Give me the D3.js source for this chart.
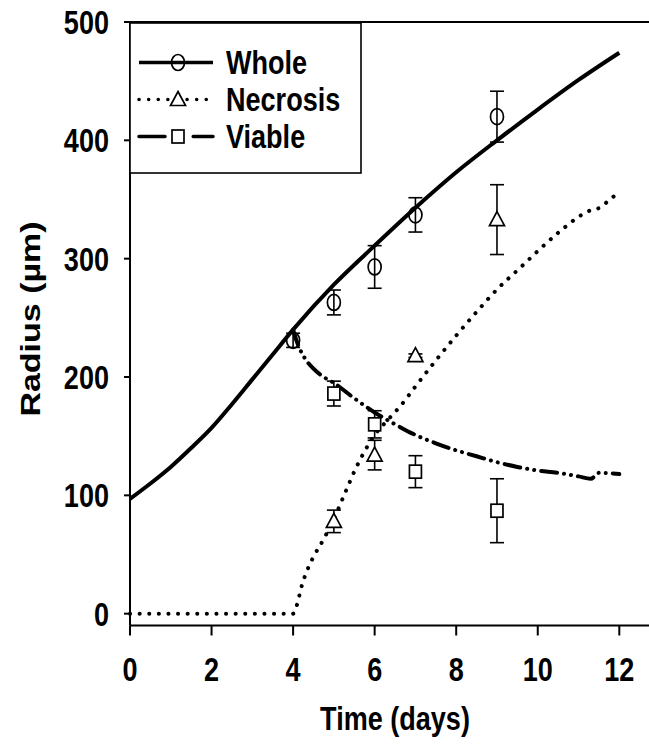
<!DOCTYPE html>
<html>
<head>
<meta charset="utf-8">
<script src="https://cdn.jsdelivr.net/npm/d3@7"></script>
<style>
  body { margin: 0; background: #fff; }
  text { font-family: "Liberation Sans", Arial, sans-serif; font-weight: bold; fill: #000; }
</style>
</head>
<body>
<div id="chart"></div>
<script>
// model curves
const wholeT = [0, 0.5, 1, 1.5, 2, 2.5, 3, 3.5, 4, 5, 6, 7, 8, 9, 10, 11, 12];
const wholeR = [97, 110, 124, 140, 157, 177, 198, 219, 240, 278, 311, 343, 373, 400, 426, 451, 474];

const necT = [0, 4, 4.1, 4.2, 4.35, 4.5, 4.75, 5, 5.25, 5.5, 5.75, 6, 6.33, 6.62, 7, 7.5, 8, 8.5, 9, 9.56, 10.05, 10.54, 11.03, 11.3, 11.52, 11.8, 12];
const necR = [0, 0, 8, 22, 37, 48, 63, 80, 100, 120, 137, 151, 164, 175, 192, 214, 235, 255, 274, 292, 308, 323, 336, 341, 343, 351, 356];

const viaT = [4, 4.1, 4.25, 4.5, 4.75, 5, 5.5, 6, 6.5, 7, 7.5, 8, 8.5, 9, 9.5, 10, 10.5, 11, 11.3, 11.5, 12];
const viaR = [240, 229, 218, 207, 200, 195, 182, 170, 160, 151, 144, 138, 133, 128, 124, 121, 119, 116, 114, 119, 118];

// measured points with error bars
const obsDays = [4, 5, 6, 7, 9];
const wholeMean = [231, 263, 293, 337, 420];
const wholeErr = [6, 10.5, 18, 14.5, 21.5];
const necDays = [5, 6, 7, 9];
const necMean = [78, 134, 218, 333];
const necErr = [9.5, 12.5, 1.5, 29.5];
const viaDays = [5, 6, 7, 9];
const viaMean = [186, 160, 120, 87];
const viaErr = [10.5, 11.5, 13.5, 27];

const xTicks = [0, 2, 4, 6, 8, 10, 12];
const yTicks = [0, 100, 200, 300, 400, 500];
const legendNames = ["Whole", "Necrosis", "Viable"];

const W = 649, H = 748;
const SQ = 0.82;   // the original figure is squeezed sideways
const FS = "33px";

const svg = d3.select("#chart").append("svg")
    .attr("width", W).attr("height", H);

const x = d3.scaleLinear().domain([0, 12]).range([130, 619.3]);
const y = d3.scaleLinear().domain([-10, 500]).range([625.5, 22]);

function squeezed(sel, px, py) {
    return sel.attr("transform", `translate(${px},${py}) scale(${SQ},1)`);
}

// frame top + axes
svg.append("line").attr("x1", 130).attr("x2", 700).attr("y1", y(500)).attr("y2", y(500))
    .attr("stroke", "#000").attr("stroke-width", 2);
svg.append("line").attr("x1", 130).attr("x2", 700).attr("y1", y(-10)).attr("y2", y(-10))
    .attr("stroke", "#000").attr("stroke-width", 2);
svg.append("line").attr("x1", 130).attr("x2", 130).attr("y1", y(500)).attr("y2", y(-10))
    .attr("stroke", "#000").attr("stroke-width", 2);

svg.selectAll(".xt").data(xTicks).enter().append("line")
    .attr("x1", d => x(d)).attr("x2", d => x(d))
    .attr("y1", y(-10)).attr("y2", y(-10) + 10)
    .attr("stroke", "#000").attr("stroke-width", 2);
svg.selectAll(".xl").data(xTicks).enter().append("text")
    .attr("text-anchor", "middle").style("font-size", FS)
    .each(function(d) { squeezed(d3.select(this), x(d), 681); })
    .text(d => d);

svg.selectAll(".yt").data(yTicks).enter().append("line")
    .attr("x1", 124).attr("x2", 130)
    .attr("y1", d => y(d)).attr("y2", d => y(d))
    .attr("stroke", "#000").attr("stroke-width", 2);
svg.selectAll(".yl").data(yTicks).enter().append("text")
    .attr("text-anchor", "end").style("font-size", FS)
    .each(function(d) { squeezed(d3.select(this), 109, y(d) + 12); })
    .text(d => d);

svg.append("text").attr("text-anchor", "middle").style("font-size", FS)
    .each(function() { squeezed(d3.select(this), 395, 730); })
    .text("Time (days)");
svg.append("text").attr("text-anchor", "middle").style("font-size", "34px")
    .attr("transform", `translate(40,319) rotate(-90) scale(1,${SQ})`)
    .text("Radius (µm)");

// styles
const styles = {
    Whole:    { dash: null, cap: "butt" },
    Necrosis: { dash: "0.1,9.5", cap: "round" },
    Viable:   { dash: "16,7,0.1,7,0.1,7", cap: "round" }
};

const line = d3.line().x(d => x(d[0])).y(d => y(d[1])).curve(d3.curveMonotoneX);
const curves = [
    ["Whole", d3.zip(wholeT, wholeR)],
    ["Necrosis", d3.zip(necT, necR)],
    ["Viable", d3.zip(viaT, viaR)]
];
curves.forEach(([name, pts]) => {
    svg.append("path").datum(pts).attr("d", line)
        .attr("fill", "none").attr("stroke", "#000").attr("stroke-width", 4)
        .attr("stroke-linecap", styles[name].cap)
        .attr("stroke-dasharray", styles[name].dash);
});

// markers
function marker(g, name, cx, cy) {
    if (name === "Whole") {
        g.append("ellipse").attr("cx", cx).attr("cy", cy).attr("rx", 6.5).attr("ry", 8)
            .attr("fill", "none").attr("stroke", "#000").attr("stroke-width", 1.7);
    } else if (name === "Necrosis") {
        g.append("path")
            .attr("d", `M${cx},${cy - 8}L${cx + 7.5},${cy + 6}L${cx - 7.5},${cy + 6}Z`)
            .attr("fill", "#fff").attr("stroke", "#000").attr("stroke-width", 1.7);
    } else {
        g.append("rect").attr("x", cx - 6).attr("y", cy - 6.5).attr("width", 12).attr("height", 13)
            .attr("fill", "#fff").attr("stroke", "#000").attr("stroke-width", 1.7);
    }
}

const obs = [
    ["Whole", obsDays, wholeMean, wholeErr],
    ["Necrosis", necDays, necMean, necErr],
    ["Viable", viaDays, viaMean, viaErr]
];
obs.forEach(([name, days, mean, err]) => {
    const g = svg.append("g");
    days.forEach((t, i) => {
        const cx = x(t), top = y(mean[i] + err[i]), bot = y(mean[i] - err[i]);
        g.append("line").attr("x1", cx).attr("x2", cx).attr("y1", top).attr("y2", bot)
            .attr("stroke", "#000").attr("stroke-width", 1.6);
        [top, bot].forEach(v => g.append("line")
            .attr("x1", cx - 7).attr("x2", cx + 7).attr("y1", v).attr("y2", v)
            .attr("stroke", "#000").attr("stroke-width", 1.6));
        marker(g, name, cx, y(mean[i]));
    });
});

// legend
const leg = svg.append("g");
leg.append("rect").attr("x", 130).attr("y", 23).attr("width", 231).attr("height", 150)
    .attr("fill", "#fff").attr("stroke", "#000").attr("stroke-width", 1.6);
legendNames.forEach((name, i) => {
    const cy = 62.5 + i * 37;
    leg.append("line").attr("x1", 139).attr("x2", 213).attr("y1", cy).attr("y2", cy)
        .attr("stroke", "#000").attr("stroke-width", 3.5)
        .attr("stroke-linecap", styles[name].cap)
        .attr("stroke-dasharray", name === "Viable" ? "26,9,0.1,8,0.1,11,20" : styles[name].dash);
    marker(leg, name, 178, cy);
    leg.append("text").style("font-size", FS)
        .each(function() { squeezed(d3.select(this), 226, cy + 11.5); })
        .text(name);
});
</script>
</body>
</html>
